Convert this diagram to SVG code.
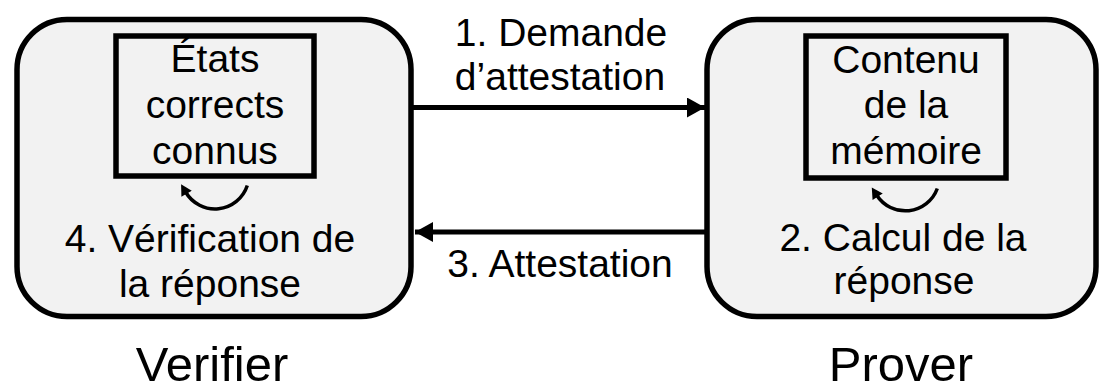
<svg xmlns="http://www.w3.org/2000/svg" width="1099" height="391" viewBox="0 0 1099 391">
<style>
.outer{fill:#f2f2f2;stroke:#000;stroke-width:5.5}
.inner{fill:#f2f2f2;stroke:#000;stroke-width:5.5}
.t{font-family:"Liberation Sans",Arial,sans-serif;font-size:39px;fill:#000;text-anchor:middle}
.big{font-family:"Liberation Sans",Arial,sans-serif;font-size:49px;fill:#000;text-anchor:middle}
.conn{fill:none;stroke:#000;stroke-width:5}
.loop{fill:none;stroke:#000;stroke-width:3.5}
</style>
<defs>
<marker id="ah" markerUnits="userSpaceOnUse" markerWidth="20" markerHeight="20" viewBox="0 0 18 20" refX="18" refY="10" orient="auto">
<path d="M0,0 L18,10 L0,20 Z" fill="#000"/>
</marker>
<marker id="ah2" markerUnits="userSpaceOnUse" markerWidth="12" markerHeight="12" viewBox="0 0 11 12" refX="2" refY="6" orient="auto">
<path d="M0,0 L11,6 L0,12 Z" fill="#000"/>
</marker>
</defs>
<g id="verifier">
<rect class="outer" x="17" y="19.5" width="394" height="297" rx="50" ry="50"/>
<rect class="inner" x="116" y="36" width="198" height="140"/>
<text class="t" x="215" y="72">États</text>
<text class="t" x="215" y="118">corrects</text>
<text class="t" x="215" y="164">connus</text>
<text class="t" x="210" y="252">4. Vérification de</text>
<text class="t" x="210" y="297">la réponse</text>
<path class="loop" d="M247.3,185.5 A34,34 0 0 1 185.6,192" marker-end="url(#ah2)"/>
<text class="big" x="212" y="381">Verifier</text>
</g>
<g id="prover">
<rect class="outer" x="707" y="19.5" width="389" height="297" rx="50" ry="50"/>
<rect class="inner" x="806" y="36" width="200" height="142"/>
<text class="t" x="906" y="73">Contenu</text>
<text class="t" x="906" y="118">de la</text>
<text class="t" x="906" y="164">mémoire</text>
<text class="t" x="903" y="251">2. Calcul de la</text>
<text class="t" x="904" y="294">réponse</text>
<path class="loop" d="M937.3,188.5 A34,34 0 0 1 876.6,195" marker-end="url(#ah2)"/>
<text class="big" x="901" y="381">Prover</text>
</g>
<g id="connectors">
<line class="conn" x1="413" y1="107.5" x2="705" y2="107.5" marker-end="url(#ah)"/>
<text class="t" x="561" y="46">1. Demande</text>
<text class="t" x="560" y="90">d’attestation</text>
<line class="conn" x1="706" y1="232" x2="415" y2="232" marker-end="url(#ah)"/>
<text class="t" x="560" y="277">3. Attestation</text>
</g>
</svg>
